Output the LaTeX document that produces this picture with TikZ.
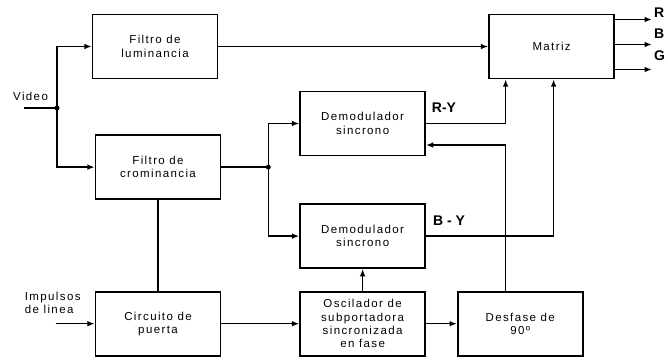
\documentclass[tikz,border=0pt]{standalone}
\usepackage{fontspec}
\setmainfont{Liberation Sans}
\newfontfamily\boxfont{Liberation Sans}[LetterSpace=12]
\usepackage{tikz}
\usetikzlibrary{positioning,arrows.meta,calc}
\tikzset{
  blk/.style  = {draw, line width=1.6pt, minimum width=125pt, minimum height=64pt,
                 align=center, inner sep=2pt, font=\boxfont\fontsize{11.5}{13.3}\selectfont},
  flow/.style = {-{Latex[length=2.6mm,width=2mm]}, line width=1.5pt},
  wire/.style = {line width=1.5pt},
  lbl/.style  = {font=\boxfont\fontsize{11.5}{13}\selectfont, align=left, inner sep=0pt},
  sig/.style  = {font=\bfseries\fontsize{14}{14}\selectfont, inner sep=0pt},
  jdot/.style = {circle, fill, inner sep=0pt, minimum size=5pt},
}

\begin{document}
\begin{tikzpicture}[x=1pt,y=-1pt]
\useasboundingbox (0,0) rectangle (668,360);

\node[blk] (lum) at (155,46.5) {Filtro de\\luminancia};
\node[blk, below=55pt of lum, xshift=3pt] (crom) {Filtro de\\crominancia};
\node[blk, below=91pt of crom] (puerta) {Circuito de\\puerta};
\node[blk, right=78pt of puerta] (osc) {Oscilador de\\subportadora\\sincronizada\\en fase};
\node[blk, right=31pt of osc] (desf) {Desfase de\\90º};
\node[blk, above=22pt of osc] (dem2) {Demodulador\\sincrono};
\node[blk, above=47pt of dem2] (dem1) {Demodulador\\sincrono};
\node[blk, right=270pt of lum] (mat) {Matriz};

% entradas
\coordinate (vin) at (24,108);
\coordinate (vj) at (57,108);
\node[lbl, anchor=base west] (vlbl) at (13,100) {Video};
\draw[wire] (vin) -- (vj);
\node[jdot] (vdot) at (vj) {};
\draw[flow] (vj) |- (lum.west);
\draw[flow] (vj) |- (crom.west);

\coordinate (imp) at ([xshift=-39pt]puerta.west);
\node[lbl, anchor=south west] (implbl) at ([xshift=-31pt,yshift=10pt]imp) {Impulsos\\de linea};
\draw[flow] (imp) -- (puerta.west);

% crominancia a los demoduladores
\coordinate (cj) at ([xshift=47pt]crom.east);
\draw[wire] (crom.east) -- (cj);
\node[jdot] (cdot) at (cj) {};
\draw[flow] (cj) |- (dem1.west);
\draw[flow] (cj) |- (dem2.west);

\draw[wire] (crom) -- (puerta);
\draw[flow] (puerta) -- (osc);
\draw[flow] (osc) -- (dem2);
\draw[flow] (osc) -- (desf);

% hacia la matriz
\draw[flow] (lum) -- (mat);
\coordinate (up1) at ([xshift=-46pt]mat.south);
\coordinate (up2) at ([xshift=2pt]mat.south);
\draw[flow] (dem1.east) -| (up1);
\draw[flow] (dem2.east) -| (up2);
\draw[flow] (desf.north -| up1) |- ([yshift=-21.5pt]dem1.east);

\node[sig] (rylbl) at (444,108) {R-Y};
\node[sig] (bylbl) at (449,221) {B - Y};

% salidas
\foreach \n/\dy in {r/27,b/2,g/-23}
  \draw[flow] ([yshift=\dy pt]mat.east) -- ++(37,0) coordinate (o\n);
\node[sig, anchor=west] (rl) at (654,13) {R};
\node[sig, anchor=west] (bl) at (654,34) {B};
\node[sig, anchor=west] (gl) at (654,56) {G};

\end{tikzpicture}
\end{document}
